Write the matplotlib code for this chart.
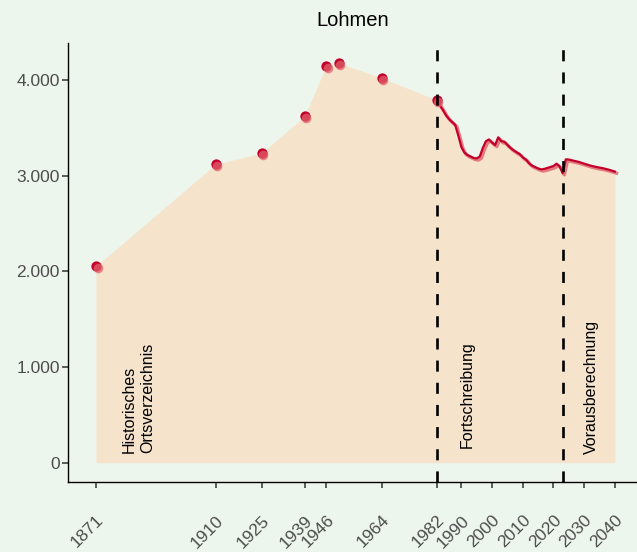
import matplotlib
matplotlib.use("Agg")
import matplotlib.pyplot as plt
import matplotlib.transforms as mtransforms
from matplotlib.ticker import FuncFormatter

plt.rcParams['font.family'] = ['Liberation Sans', 'DejaVu Sans']

# historische Werte (Ortsverzeichnis)
hist_jahre = [1871, 1910, 1925, 1939, 1946, 1950, 1964, 1982]
hist_werte = [2052, 3120, 3235, 3623, 4147, 4178, 4021, 3790]

# Fortschreibung + Vorausberechnung
jahre = [1982, 1983, 1984, 1985, 1986, 1987, 1988, 1989, 1990, 1991,
         1992, 1993, 1994, 1995, 1996, 1997, 1998, 1999, 2000, 2001,
         2002, 2003, 2004, 2005, 2006, 2007, 2008, 2009, 2010, 2011,
         2012, 2013, 2014, 2015, 2016, 2017, 2018, 2019, 2020, 2021,
         2022, 2023, 2024, 2025, 2026, 2028, 2030, 2032, 2034, 2036,
         2038, 2040]
werte = [3790, 3735, 3685, 3630, 3590, 3560, 3530, 3420, 3300, 3240,
         3215, 3200, 3185, 3180, 3200, 3290, 3360, 3378, 3345, 3320,
         3400, 3360, 3355, 3320, 3290, 3265, 3245, 3225, 3190, 3170,
         3130, 3105, 3090, 3075, 3065, 3070, 3080, 3090, 3100, 3125,
         3095, 3025, 3170, 3168, 3160, 3145, 3125, 3105, 3090, 3078,
         3062, 3042]

xticks = [1871, 1910, 1925, 1939, 1946, 1964, 1982, 1990, 2000, 2010, 2020, 2030, 2040]
trennlinien = [1982, 2023]

bg = '#edf6ec'
dunkel = '#c3002b'
hell = '#e0606a'

fig = plt.figure(figsize=(6.37, 5.52), dpi=100, facecolor=bg)
ax = fig.add_axes([68/637, 1 - 482/552, 1 - 68/637, (482 - 43)/552])
ax.set_facecolor(bg)

alle_x = hist_jahre[:-1] + jahre
alle_y = hist_werte[:-1] + werte
ax.fill_between(alle_x, 0, alle_y, color='#f5e3cc', lw=0, zorder=1)

versatz = mtransforms.offset_copy(ax.transData, fig=fig, x=1.2, y=-1.2, units='points')
ax.plot(jahre, werte, color=hell, lw=2.4, alpha=0.8, transform=versatz, zorder=3)
ax.plot(jahre, werte, color=dunkel, lw=1.6, zorder=4)

ax.scatter(hist_jahre, hist_werte, s=55, color=dunkel, lw=0, zorder=5)
ax.scatter(hist_jahre, hist_werte, s=48, color=hell, lw=0, alpha=0.75,
           transform=versatz, zorder=6)

for x in trennlinien:
    ax.axvline(x, color='black', lw=1.9, linestyle=(0, (4.2, 4.2)), zorder=7)

ax.text(1879.5, 105, 'Historisches\nOrtsverzeichnis', rotation=90, ha='left',
        va='bottom', fontsize=11.5, linespacing=1.3)
ax.text(1989.6, 150, 'Fortschreibung', rotation=90, ha='left', va='bottom', fontsize=11.5)
ax.text(2030, 95, 'Vorausberechnung', rotation=90, ha='left', va='bottom', fontsize=11.5)

ax.set_xlim(1861.9, 2047.2)
ax.set_ylim(-202, 4386)
ax.set_yticks([0, 1000, 2000, 3000, 4000])
ax.yaxis.set_major_formatter(FuncFormatter(lambda v, p: f'{int(v):,}'.replace(',', '.')))
ax.set_xticks(xticks)
ax.set_xticklabels([str(j) for j in xticks], rotation=45, ha='right', va='top',
                   rotation_mode='anchor')
links = mtransforms.ScaledTranslation(-0.04, 0, fig.dpi_scale_trans)
for lab in ax.get_xticklabels():
    lab.set_transform(lab.get_transform() + links)

for s in ['top', 'right']:
    ax.spines[s].set_visible(False)
for s in ['left', 'bottom']:
    ax.spines[s].set_color('black')
    ax.spines[s].set_linewidth(1.0)

ax.tick_params(axis='both', colors='#333333', length=4, width=1.1, labelsize=12.5,
               labelcolor='#4d4d4d')
ax.tick_params(axis='x', pad=18)
ax.tick_params(axis='y', pad=2)

ax.set_title('Lohmen', fontsize=14.5, pad=12)

fig.savefig('out.png', dpi=100, facecolor=bg)
